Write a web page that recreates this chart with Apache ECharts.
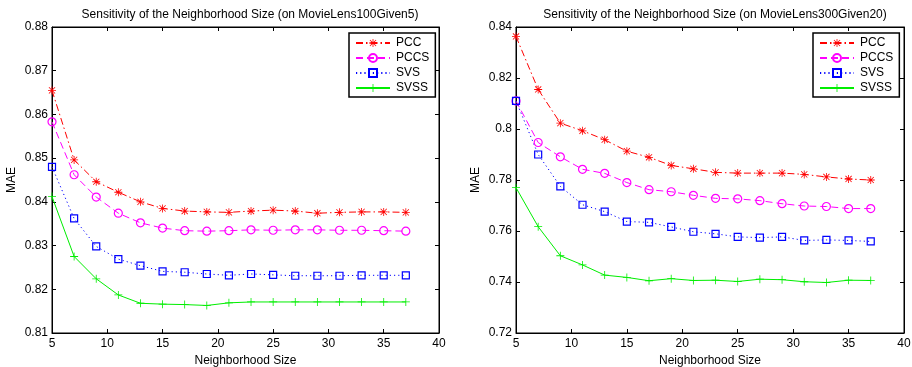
<!DOCTYPE html>
<html>
<head>
<meta charset="utf-8">
<script src="https://cdn.jsdelivr.net/npm/echarts@6/dist/echarts.min.js"></script>
<style>
  html, body { margin: 0; padding: 0; background: #fff; }
  #chart { width: 912px; height: 367px; }
</style>
</head>
<body>
<div id="chart"></div>
<script>
const sizes = [5, 7, 9, 11, 13, 15, 17, 19, 21, 23, 25, 27, 29, 31, 33, 35, 37]
const seriesNames = ['PCC', 'PCCS', 'SVS', 'SVSS']
const titles = [
  'Sensitivity of the Neighborhood Size (on MovieLens100Given5)',
  'Sensitivity of the Neighborhood Size (on MovieLens300Given20)'
]

// MovieLens100Given5
const pcc100 = [0.8655, 0.8496, 0.8446, 0.8422, 0.8400, 0.8385, 0.8379, 0.8377, 0.8376, 0.8379, 0.8381, 0.8379, 0.8374, 0.8376, 0.8377, 0.8377, 0.8376]
const pccs100 = [0.8583, 0.8462, 0.8411, 0.8374, 0.8352, 0.8340, 0.8334, 0.8333, 0.8334, 0.8336, 0.8335, 0.8336, 0.8336, 0.8335, 0.8335, 0.8334, 0.8333]
const svs100 = [0.8480, 0.8362, 0.8298, 0.8269, 0.8254, 0.8241, 0.8239, 0.8235, 0.8232, 0.8235, 0.8233, 0.8231, 0.8231, 0.8231, 0.8232, 0.8232, 0.8232]
const svss100 = [0.8412, 0.8275, 0.8224, 0.8187, 0.8168, 0.8166, 0.8165, 0.8163, 0.8169, 0.8171, 0.8171, 0.8171, 0.8171, 0.8171, 0.8171, 0.8171, 0.8171]

// MovieLens300Given20
const pcc300 = [0.8363, 0.8155, 0.8023, 0.7993, 0.7958, 0.7913, 0.7889, 0.7857, 0.7844, 0.7830, 0.7827, 0.7827, 0.7827, 0.7822, 0.7812, 0.7804, 0.7800]
const pccs300 = [0.8110, 0.7947, 0.7891, 0.7842, 0.7826, 0.7790, 0.7762, 0.7754, 0.7740, 0.7728, 0.7726, 0.7719, 0.7707, 0.7698, 0.7696, 0.7688, 0.7688]
const svs300 = [0.8110, 0.7900, 0.7775, 0.7703, 0.7676, 0.7637, 0.7634, 0.7616, 0.7597, 0.7589, 0.7577, 0.7574, 0.7577, 0.7563, 0.7565, 0.7563, 0.7559]
const svss300 = [0.7770, 0.7617, 0.7503, 0.7467, 0.7427, 0.7418, 0.7405, 0.7413, 0.7406, 0.7407, 0.7402, 0.7411, 0.7409, 0.7401, 0.7398, 0.7407, 0.7406]

const FONT = 'Liberation Sans, Arial, Helvetica, sans-serif'
const ASTERISK = 'path://M4.5 0h1v10h-1z M0 4.5h10v1h-10z M1.5 0.8L9.2 8.5L8.5 9.2L0.8 1.5z M8.5 0.8L9.2 1.5L1.5 9.2L0.8 8.5z'
const PLUS = 'path://M4.5 0h1v10h-1z M0 4.5h10v1h-10z'

const styles = {
  PCC:  { color: '#ff0000', dash: [7, 3, 1.5, 3], symbol: ASTERISK, size: 8, fill: '#ff0000' },
  PCCS: { color: '#ff00ff', dash: [7, 4], symbol: 'circle', size: 8, fill: 'transparent' },
  SVS:  { color: '#0000ff', dash: [1.2, 3], symbol: 'rect', size: 7, fill: 'transparent' },
  SVSS: { color: '#00ee00', dash: 'solid', symbol: PLUS, size: 8, fill: '#00ee00' },
}

function makeSeries(name, data, axisIdx) {
  const s = styles[name]
  return {
    name, type: 'line', xAxisIndex: axisIdx, yAxisIndex: axisIdx,
    data: sizes.map((x, i) => [x, data[i]]),
    symbol: s.symbol, symbolSize: s.size, symbolKeepAspect: true,
    showSymbol: true, animation: false,
    lineStyle: { color: s.color, width: 1, type: s.dash },
    itemStyle: { color: s.fill, borderColor: s.color, borderWidth: s.fill === 'transparent' ? 1.2 : 0 },
    emphasis: { disabled: true },
  }
}

const grids = [
  { left: 52, top: 27, width: 387, height: 306, show: true, borderColor: '#000', borderWidth: 1, containLabel: false, outerBoundsMode: 'none' },
  { left: 516, top: 27, width: 388, height: 306, show: true, borderColor: '#000', borderWidth: 1, containLabel: false, outerBoundsMode: 'none' },
]

const labelStyle = { color: '#000', fontFamily: FONT, fontSize: 12 }
const nameStyle = { color: '#000', fontFamily: FONT, fontSize: 12 }

function xAxes(gi) {
  return [
    {
      type: 'value', gridIndex: gi, min: 5, max: 40, interval: 5,
      name: 'Neighborhood Size', nameLocation: 'middle', nameGap: 19,
      nameTextStyle: nameStyle,
      axisLine: { lineStyle: { color: '#000' } },
      axisTick: { inside: true, length: 4, lineStyle: { color: '#000' } },
      axisLabel: { ...labelStyle, margin: 5 },
      splitLine: { show: false },
    },
    {
      type: 'value', gridIndex: gi, position: 'top', min: 5, max: 40, interval: 5,
      axisLine: { lineStyle: { color: '#000' } },
      axisTick: { inside: true, length: 4, lineStyle: { color: '#000' } },
      axisLabel: { show: false }, splitLine: { show: false },
    },
  ]
}

function yAxes(gi, min, max, interval) {
  return [
    {
      type: 'value', gridIndex: gi, min, max, interval,
      name: 'MAE', nameLocation: 'middle', nameGap: 34,
      nameTextStyle: nameStyle,
      axisLine: { lineStyle: { color: '#000' } },
      axisTick: { inside: true, length: 4, lineStyle: { color: '#000' } },
      axisLabel: { ...labelStyle, margin: 4, formatter: v => String(+v.toFixed(2)) },
      splitLine: { show: false },
    },
    {
      type: 'value', gridIndex: gi, position: 'right', min, max, interval,
      axisLine: { lineStyle: { color: '#000' } },
      axisTick: { inside: true, length: 4, lineStyle: { color: '#000' } },
      axisLabel: { show: false }, splitLine: { show: false },
    },
  ]
}

function legend(left) {
  return {
    data: seriesNames, orient: 'vertical', left, top: 33,
    backgroundColor: '#fff', borderColor: '#000', borderWidth: 1.5,
    padding: [4, 6, 3, 6], itemGap: 3, itemWidth: 34, itemHeight: 10,
    selectedMode: false,
    textStyle: { color: '#000', fontFamily: FONT, fontSize: 12, padding: [0, 0, 0, 1] },
  }
}

const titleStyle = { color: '#000', fontFamily: FONT, fontSize: 12, fontWeight: 'normal' }

const chart = echarts.init(document.getElementById('chart'), null, { renderer: 'canvas' })
chart.setOption({
  animation: false,
  backgroundColor: '#fff',
  title: [
    { text: titles[0], left: 245, top: 4, textAlign: 'center', textStyle: titleStyle },
    { text: titles[1], left: 710, top: 4, textAlign: 'center', textStyle: titleStyle },
  ],
  grid: grids,
  legend: [legend(349), legend(813)],
  xAxis: [...xAxes(0), ...xAxes(1)],
  yAxis: [...yAxes(0, 0.81, 0.88, 0.01), ...yAxes(1, 0.72, 0.84, 0.02)],
  series: [
    makeSeries('PCC', pcc100, 0),
    makeSeries('PCCS', pccs100, 0),
    makeSeries('SVS', svs100, 0),
    makeSeries('SVSS', svss100, 0),
    makeSeries('PCC', pcc300, 2),
    makeSeries('PCCS', pccs300, 2),
    makeSeries('SVS', svs300, 2),
    makeSeries('SVSS', svss300, 2),
  ],
})
</script>
</body>
</html>
